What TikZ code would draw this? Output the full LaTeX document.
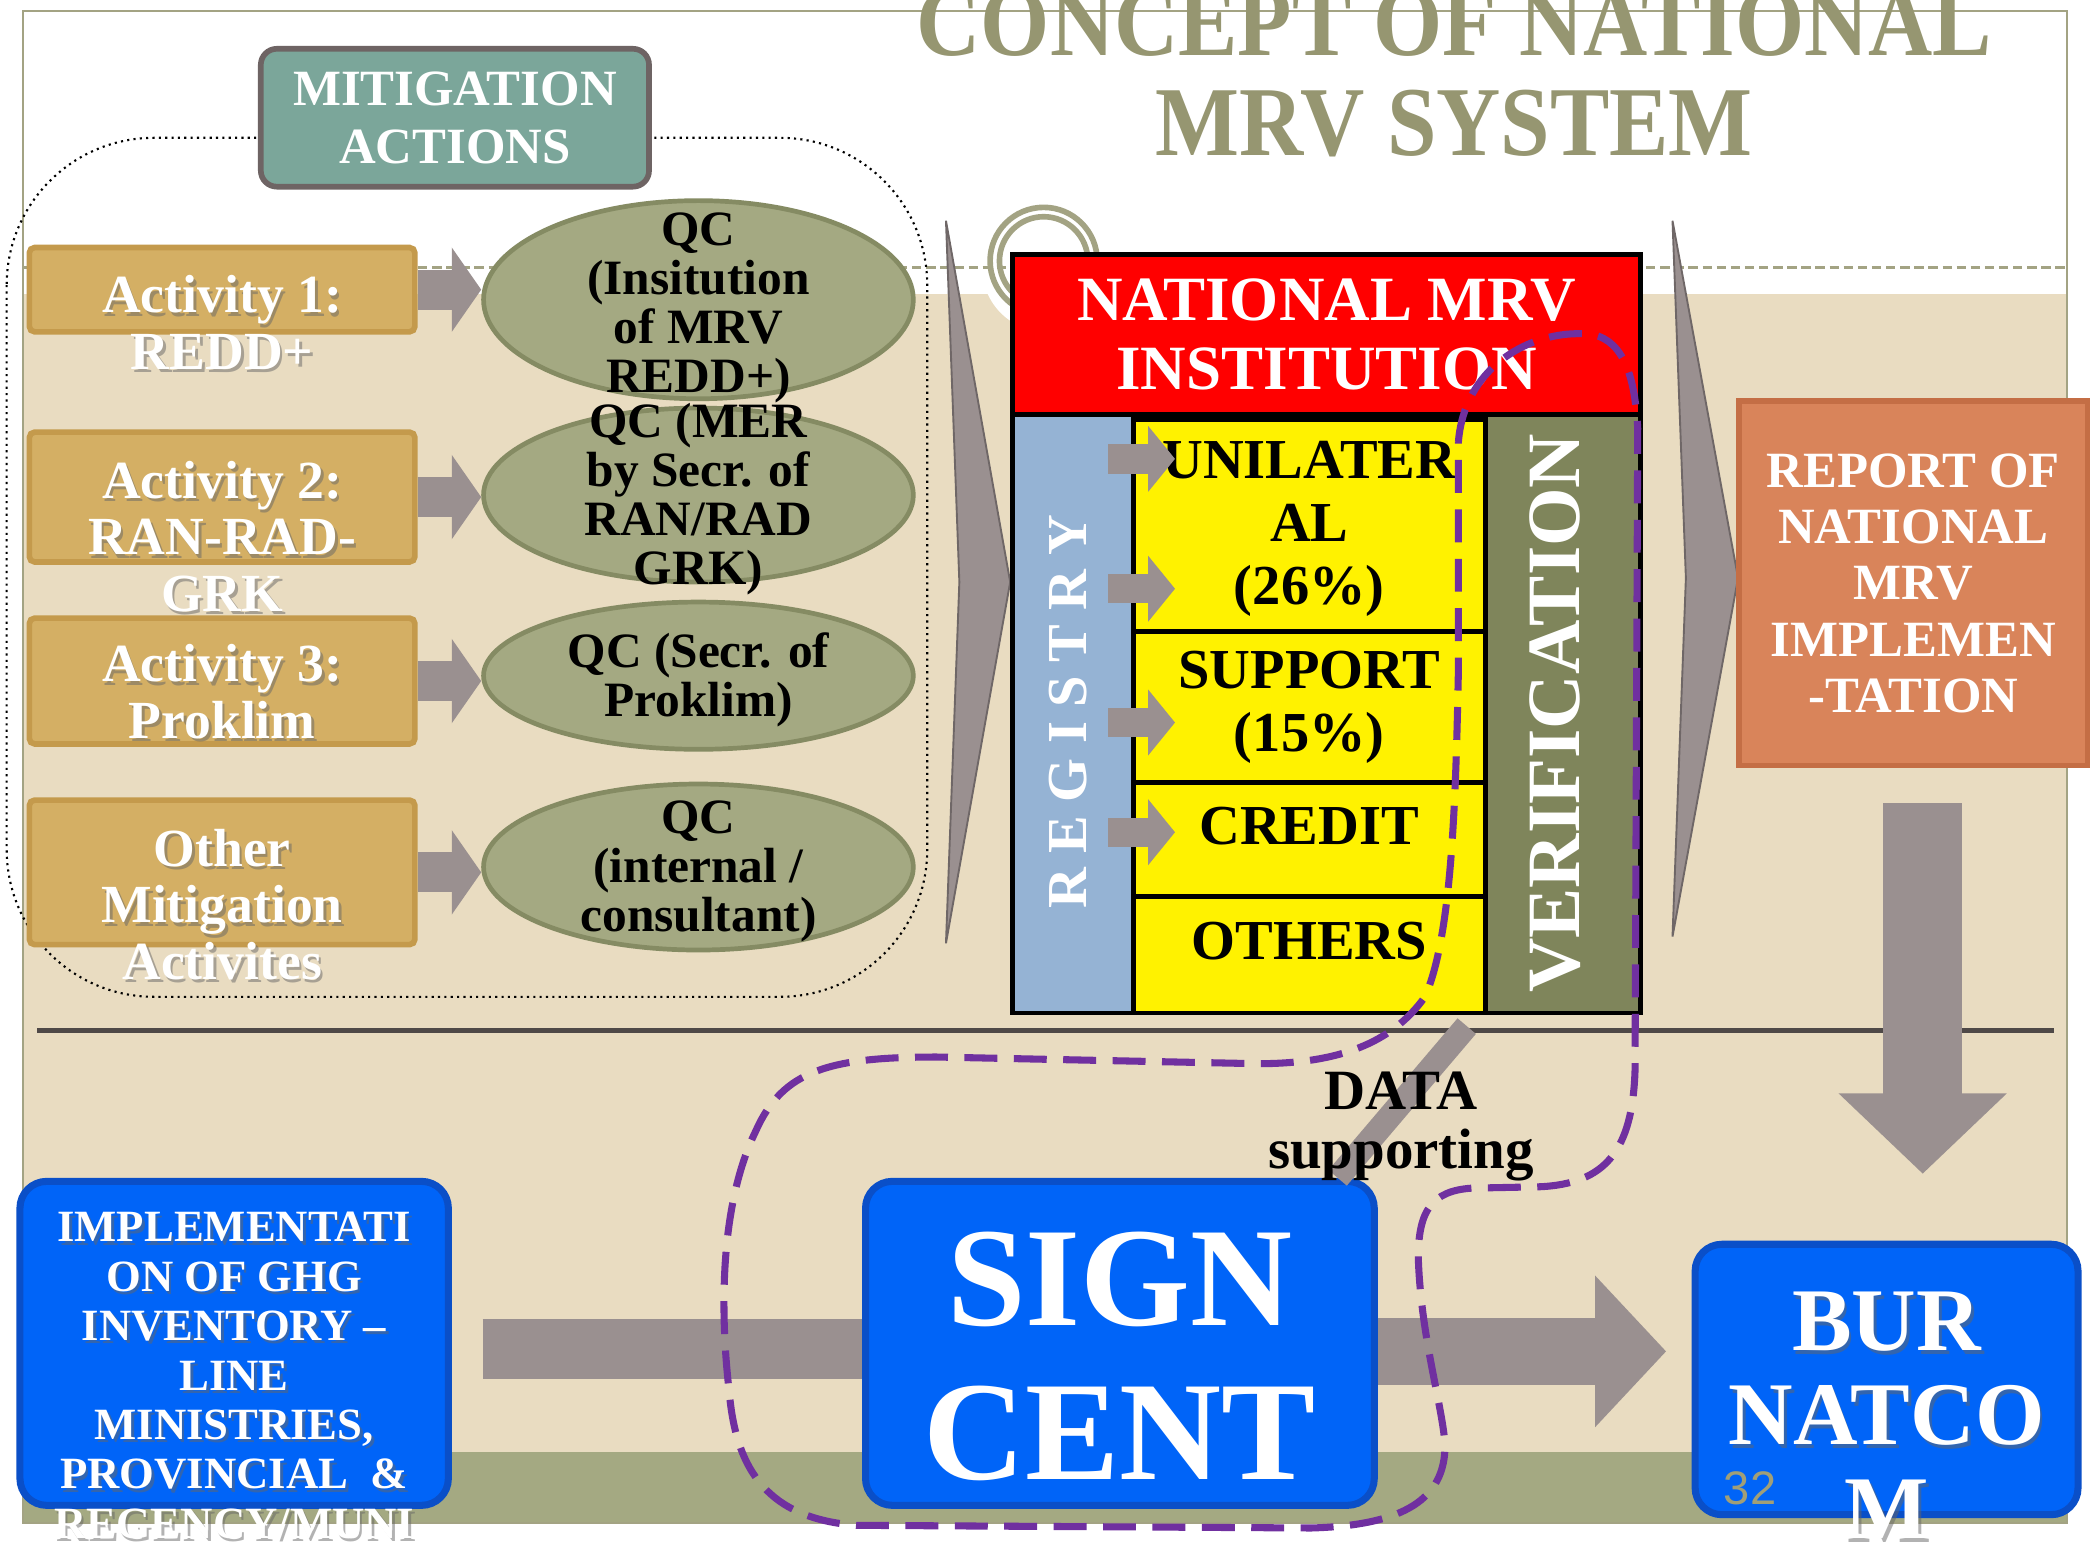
\documentclass[tikz,border=0pt]{standalone}
\usepackage{fontspec}
\setmainfont{Liberation Serif}
\newfontfamily\titlefont{Liberation Serif}[FakeStretch=0.9]
\newfontfamily\pagefont{Liberation Sans}
\usetikzlibrary{arrows.meta,shapes.geometric}

\definecolor{beige}{HTML}{E9DCC1}
\definecolor{oliveband}{HTML}{A4A982}
\definecolor{frameol}{HTML}{A3A383}
\definecolor{titleol}{HTML}{969671}
\definecolor{mitteal}{HTML}{7BA69A}
\definecolor{mitedge}{HTML}{6E6464}
\definecolor{gold}{HTML}{D4AF64}
\definecolor{goldedge}{HTML}{C49A4C}
\definecolor{arrgray}{HTML}{9A9090}
\definecolor{arredge}{HTML}{6F6767}
\definecolor{qcfill}{HTML}{A4A982}
\definecolor{qcedge}{HTML}{858B63}
\definecolor{regblue}{HTML}{95B3D4}
\definecolor{verol}{HTML}{7F855B}
\definecolor{reporange}{HTML}{D9845A}
\definecolor{repedge}{HTML}{C46E45}
\definecolor{boxblue}{HTML}{0064F8}
\definecolor{blueedge}{HTML}{0A4FC8}
\definecolor{mrvpurple}{HTML}{7030A0}
\definecolor{rulegray}{HTML}{4F4947}
\definecolor{pagecol}{HTML}{A09F78}

\begin{document}
\begin{tikzpicture}[x=0.01cm,y=-0.01cm,
  mitbox/.style={draw=mitedge,line width=1.2pt,fill=mitteal,rounded corners=0.12cm,
    minimum width=2.9cm,minimum height=1.03cm,text=white,align=center,
    font=\bfseries\fontsize{10.8}{12.2}\selectfont},
  actbox/.style={draw=goldedge,line width=1.2pt,fill=gold,rounded corners=0.04cm,minimum width=2.88cm},
  acttext/.style={text=white,align=center,font=\bfseries\fontsize{11.4}{12}\selectfont},
  txtshadow/.style={text=black!60,opacity=0.5,xshift=0.02cm,yshift=-0.025cm},
  qc/.style={ellipse,draw=qcedge,line width=1pt,fill=qcfill,minimum width=3.21cm},
  qctext/.style={align=center,font=\bfseries\fontsize{10.5}{10.4}\selectfont},
  row/.style={draw,line width=1pt,fill=yellow,minimum width=2.63cm,inner sep=0pt,align=center,
    font=\bfseries\fontsize{12}{13.4}\selectfont},
  bluebox/.style={draw=blueedge,line width=1.5pt,fill=boxblue,rounded corners=0.2cm},
  bluetext/.style={text=white,align=center},
  smallarr/.style={arrgray,line width=0.3cm,-{Triangle[length=0.22cm,width=0.62cm]}},
  regarr/.style={arrgray,line width=0.22cm,-{Triangle[length=0.2cm,width=0.48cm]}},
  bigarr/.style={arrgray,line width=0.5cm,-{Triangle[length=0.53cm,width=1.1cm]}},
  downarr/.style={arrgray,line width=0.59cm,-{Triangle[length=0.6cm,width=1.22cm]}},
  chevron/.style={fill=arrgray,draw=arredge,line width=0.4pt}]

\useasboundingbox (0,0) rectangle (1568,1155);
\fill[white] (0,0) rectangle (1568,1155);
\fill[beige] (17,220) rectangle (1545,1138);
\fill[oliveband] (17,1085) rectangle (1545,1138);
\fill[white] (782,200) circle (0.48cm);
\draw[frameol,line width=0.5pt,dash pattern=on 2pt off 1pt] (17,200) -- (1545,200);
\draw[frameol,line width=0.45pt] (17,8) rectangle (1545,1138);
\draw[frameol,line width=1.2pt] (780,195) circle (0.4cm);
\draw[frameol,line width=1.2pt] (780,195) circle (0.33cm);

\node[text=titleol,align=center,font=\titlefont\bfseries\fontsize{21}{21.3}\selectfont] (title) at (1087,55) {CONCEPT OF NATIONAL\\MRV SYSTEM};

\filldraw[chevron] (707,165) -- (755,435) -- (707,705) -- (717,435) -- cycle;
\filldraw[chevron] (1250,165) -- (1299,432) -- (1250,700) -- (1260,432) -- cycle;

\draw[line width=0.45pt,dash pattern=on 0.45pt off 0.9pt,rounded corners=1.1cm] (5,103) rectangle (693,745);
\node[mitbox] (mit) at (340,88) {MITIGATION\\ACTIONS};

\node[actbox,minimum height=0.63cm] (act1) at (166,216.5) {};
\node[actbox,minimum height=0.97cm] (act2) at (166,371.5) {};
\node[actbox,minimum height=0.94cm] (act3) at (166,509) {};
\node[actbox,minimum height=1.08cm] (act4) at (166,652) {};

\node[qc,minimum height=1.48cm] (qc1) at (522,224) {};
\node[qc,minimum height=1.3cm] (qc2) at (522,370) {};
\node[qc,minimum height=1.1cm] (qc3) at (522,505) {};
\node[qc,minimum height=1.24cm] (qc4) at (522,648) {};

\draw[smallarr] (act1.east) -- (act1.east -| qc1.west);
\draw[smallarr] (act2.east) -- (act2.east -| qc2.west);
\draw[smallarr] (act3.east) -- (act3.east -| qc3.west);
\draw[smallarr] (act4.east) -- (act4.east -| qc4.west);

\node[acttext,txtshadow] (act1s) at (166,241) {Activity 1:\\REDD+};
\node[acttext,txtshadow] (act2s) at (166,401) {Activity 2:\\RAN-RAD-\\GRK};
\node[acttext,txtshadow] (act3s) at (166,517) {Activity 3:\\Proklim};
\node[acttext,txtshadow] (act4s) at (166,676) {Other\\Mitigation\\Activites};
\node[acttext] (act1t) at (166,241) {Activity 1:\\REDD+};
\node[acttext] (act2t) at (166,401) {Activity 2:\\RAN-RAD-\\GRK};
\node[acttext] (act3t) at (166,517) {Activity 3:\\Proklim};
\node[acttext] (act4t) at (166,676) {Other\\Mitigation\\Activites};

\node[qctext] (qc1t) at (522,230) {QC\\(Insitution\\of MRV\\REDD+)};
\node[qctext] (qc2t) at (522,373) {QC (MER\\by Secr. of\\RAN/RAD\\GRK)};
\node[qctext] (qc3t) at (522,508) {QC (Secr. of\\Proklim)};
\node[qctext] (qc4t) at (522,651) {QC\\(internal /\\consultant)};

\node[draw,line width=1pt,fill=red,minimum width=4.69cm,minimum height=1.2cm,text=white,align=center,
  font=\bfseries\fontsize{13.4}{14.8}\selectfont] (inst) at (991.5,250) {NATIONAL MRV\\INSTITUTION};
\node[draw,line width=1pt,fill=regblue,minimum width=0.9cm,minimum height=4.47cm] (reg) at (802,533.5) {};
\node[draw,line width=1pt,fill=verol,minimum width=1.16cm,minimum height=4.47cm] (ver) at (1168,533.5) {};
\node[row,minimum height=1.62cm] (unil) at (978.5,395) {UNILATER\\AL\\(26\%)};
\node[row,minimum height=1.13cm] (supp) at (978.5,528.5) {SUPPORT\\(15\%)};
\node[row,minimum height=0.85cm,text depth=5.7pt] (cred) at (978.5,627.5) {CREDIT};
\node[row,minimum height=0.87cm,text depth=5.7pt] (oth) at (978.5,713.5) {OTHERS};
\draw[line width=1pt] (unil.north west) -- (unil.north east);
\node[rotate=90,text=white,font=\bfseries\fontsize{12}{12}\selectfont] (regt) at (798,532) {R E G I S T R Y};
\node[rotate=90,text=white,font=\bfseries\fontsize{16}{16}\selectfont] (vert) at (1162,533) {VERIFICATION};

\draw[regarr] ([xshift=-0.17cm,yshift=0.52cm]unil.west) -- ([xshift=0.33cm,yshift=0.52cm]unil.west);
\draw[regarr] ([xshift=-0.17cm,yshift=-0.45cm]unil.west) -- ([xshift=0.33cm,yshift=-0.45cm]unil.west);
\draw[regarr] ([xshift=-0.17cm,yshift=-0.115cm]supp.west) -- ([xshift=0.33cm,yshift=-0.115cm]supp.west);
\draw[regarr] ([xshift=-0.17cm,yshift=0.055cm]cred.west) -- ([xshift=0.33cm,yshift=0.055cm]cred.west);

\node[draw=repedge,line width=1.2pt,fill=reporange,minimum width=2.6cm,minimum height=2.72cm,text=white,align=center,
  font=\bfseries\fontsize{10.8}{12}\selectfont] (rep) at (1430,436) {REPORT OF\\NATIONAL\\MRV\\IMPLEMEN\\-TATION};

\draw[rulegray,line width=1.05pt] (28,770) -- (1535,770);

\node[bluebox,minimum width=3.2cm,minimum height=2.42cm] (impl) at (175,1004) {};
\node[bluebox,minimum width=3.8cm,minimum height=2.42cm] (sign) at (837,1004) {};
\node[bluebox,minimum width=2.86cm,minimum height=2.02cm] (bur) at (1410,1031) {};

\draw[arrgray,line width=0.18cm] ([xshift=-0.12cm,yshift=-0.08cm]ver.south west) -- ([xshift=-0.3cm]sign.north east);
\draw[arrgray,line width=0.45cm] ([xshift=0.23cm,yshift=-0.04cm]impl.east) -- ([yshift=-0.04cm]sign.west);
\draw[bigarr] ([yshift=-0.06cm]sign.east) -- ([xshift=-0.19cm,yshift=-0.06cm]bur.west |- sign.east);
\draw[downarr] ([xshift=0.07cm,yshift=-0.26cm]rep.south) -- ([xshift=0.07cm,yshift=0.5cm]bur.north -| rep.south);

\node[bluetext,font=\bfseries\fontsize{30}{32.7}\selectfont] (signt) at (837,1014) {SIGN\\CENT};
\node[bluetext,txtshadow,font=\bfseries\fontsize{9.5}{10.5}\selectfont] (impls) at (175,1028) {IMPLEMENTATI\\ON OF GHG\\INVENTORY --\\LINE\\MINISTRIES,\\PROVINCIAL\ \ \&\\REGENCY/MUNI};
\node[bluetext,font=\bfseries\fontsize{9.5}{10.5}\selectfont] (implt) at (175,1028) {IMPLEMENTATI\\ON OF GHG\\INVENTORY --\\LINE\\MINISTRIES,\\PROVINCIAL\ \ \&\\REGENCY/MUNI};
\node[bluetext,txtshadow,font=\bfseries\fontsize{19}{20}\selectfont] (burs) at (1410,1058) {BUR\\NATCO\\M};
\node[bluetext,font=\bfseries\fontsize{19}{20}\selectfont] (burt) at (1410,1058) {BUR\\NATCO\\M};
\node[text=pagecol,font=\pagefont\fontsize{10}{10}\selectfont] (pgno) at (1308,1112) {32};

\node[align=center,font=\bfseries\fontsize{12.1}{12.5}\selectfont] (data) at (1047,842) {DATA\\supporting};

\draw[mrvpurple,line width=1.5pt,dash pattern=on 7pt off 3.5pt]
  (1090,330) .. controls (1095,270) and (1150,245) .. (1190,250)
  .. controls (1215,255) and (1222,285) .. (1224,320)
  -- (1222,800)
  .. controls (1220,860) and (1200,885) .. (1150,887)
  -- (1100,888)
  .. controls (1070,890) and (1060,905) .. (1060,940)
  .. controls (1062,1000) and (1078,1050) .. (1080,1080)
  .. controls (1080,1120) and (1050,1140) .. (980,1142)
  -- (640,1140)
  .. controls (575,1135) and (550,1100) .. (545,1040)
  .. controls (538,980) and (538,900) .. (565,845)
  .. controls (585,800) and (620,790) .. (700,790)
  -- (940,795)
  .. controls (1000,795) and (1040,780) .. (1065,745)
  .. controls (1085,700) and (1088,600) .. (1090,500)
  -- cycle;
\end{tikzpicture}
\end{document}
